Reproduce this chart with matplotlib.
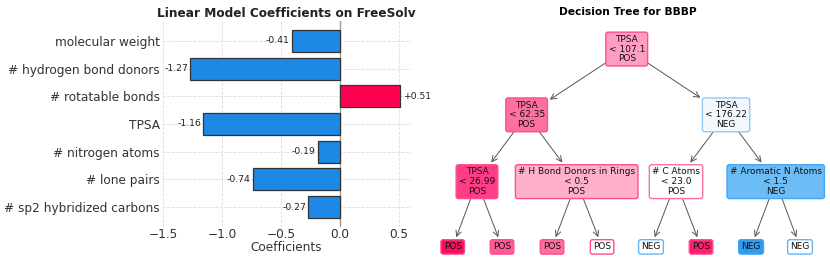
import matplotlib
matplotlib.use("Agg")
import matplotlib.pyplot as plt

# ── data: linear model ──
features = ["molecular weight", "# hydrogen bond donors", "# rotatable bonds", "TPSA",
            "# nitrogen atoms", "# lone pairs", "# sp2 hybridized carbons"]
coefs = [-0.41, -1.27, 0.51, -1.16, -0.19, -0.74, -0.27]

# ── data: decision tree (label, colour, edge) ──
node_text = ["TPSA\n< 107.1\nPOS",
             "TPSA\n< 62.35\nPOS", "TPSA\n< 176.22\nNEG",
             "TPSA\n< 26.99\nPOS", "# H Bond Donors in Rings\n< 0.5\nPOS",
             "# C Atoms\n< 23.0\nPOS", "# Aromatic N Atoms\n< 1.5\nNEG",
             "POS", "POS", "POS", "POS", "NEG", "POS", "NEG", "NEG"]
node_fill = ["#ff9ec2", "#ff6fa2", "#f2f8fe",
             "#ff3d87", "#ffb0cd", "#ffffff", "#6cbdf5",
             "#ff0a5e", "#ff5a96", "#ff6fa2", "#ffffff", "#ffffff", "#ff1f6e", "#2f9bef", "#ffffff"]
node_edge = ["#ff4d8d", "#ff4d8d", "#90caf9",
             "#ff4d8d", "#ff4d8d", "#ff6fa2", "#42a5f5",
             "#ff4d8d", "#ff4d8d", "#ff4d8d", "#ff4d8d", "#64b5f6", "#ff4d8d", "#42a5f5", "#64b5f6"]
# children of each internal node
children = {0: (1, 2), 1: (3, 4), 2: (5, 6), 3: (7, 8), 4: (9, 10), 5: (11, 12), 6: (13, 14)}
# layout (axes fraction)
node_x = [0.498, 0.238, 0.756,
          0.109, 0.368, 0.626, 0.885,
          0.046, 0.174, 0.304, 0.434, 0.561, 0.691, 0.821, 0.948]
node_y = [0.812, 0.56, 0.56,
          0.304, 0.304, 0.304, 0.304,
          0.054, 0.054, 0.054, 0.054, 0.054, 0.054, 0.054, 0.054]

fig = plt.figure(figsize=(8.3, 2.61), dpi=100)

# ─────────── left: coefficients ───────────
ax = fig.add_axes([162 / 830, 34 / 261, 249 / 830, 206 / 261])
ypos = list(range(len(features)))
colors = ["#ff0051" if c > 0 else "#1e88e5" for c in coefs]
ax.barh(ypos, coefs, height=0.8, color=colors, edgecolor="#333333", linewidth=0.9, zorder=3)
ax.axvline(0, color="#999999", linewidth=1, zorder=2)
for y, c in zip(ypos, coefs):
    if c < 0:
        ax.text(c - 0.02, y, f"{c:.2f}", ha="right", va="center", fontsize=6.7, color="#222222")
    else:
        ax.text(c + 0.02, y, f"+{c:.2f}", ha="left", va="center", fontsize=6.7, color="#222222")
ax.set_yticks(ypos)
ax.set_yticklabels(features, fontsize=8.7, color="#333333")
ax.set_ylim(len(features) - 0.28, -0.72)
ax.set_xlim(-1.51, 0.6)
ax.set_xticks([-1.5, -1.0, -0.5, 0.0, 0.5])
ax.tick_params(axis="x", labelsize=8.7, colors="#333333", length=0, pad=0.5)
ax.tick_params(axis="y", length=0, pad=1.5)
ax.set_xlabel("Coefficients", fontsize=8.7, color="#333333", labelpad=0)
ax.grid(True, linestyle="--", color="#dddddd", linewidth=0.6, zorder=0)
for s in ax.spines.values():
    s.set_visible(False)
ax.set_title("Linear Model Coefficients on FreeSolv", fontsize=8.7, fontweight="bold",
             color="#222222", pad=3)

# ─────────── right: decision tree ───────────
ax2 = fig.add_axes([435 / 830, 0.0, 385 / 830, 1.0])
ax2.set_xlim(0, 1)
ax2.set_ylim(0, 1)
ax2.axis("off")
ax2.set_title("Decision Tree for BBBP", fontsize=7.7, fontweight="bold", y=0.91)

boxes = []
for i in range(len(node_text)):
    t = ax2.text(node_x[i], node_y[i], node_text[i], ha="center", va="center", fontsize=6.5,
                 linespacing=1.1, color="#111111",
                 bbox=dict(boxstyle="round,pad=0.3,rounding_size=0.25",
                           fc=node_fill[i], ec=node_edge[i], lw=1.0), zorder=3)
    boxes.append(t)

# need bbox patches placed before clipping arrows against them
fig.canvas.draw()

for p, kids in children.items():
    for c in kids:
        ax2.annotate("", xy=(node_x[c], node_y[c]), xytext=(node_x[p], node_y[p]),
                     arrowprops=dict(arrowstyle="->", color="#555555", lw=0.7,
                                     patchA=boxes[p].get_bbox_patch(),
                                     patchB=boxes[c].get_bbox_patch(),
                                     shrinkA=0, shrinkB=1.5), zorder=2)

fig.savefig("out.png", dpi=100)
